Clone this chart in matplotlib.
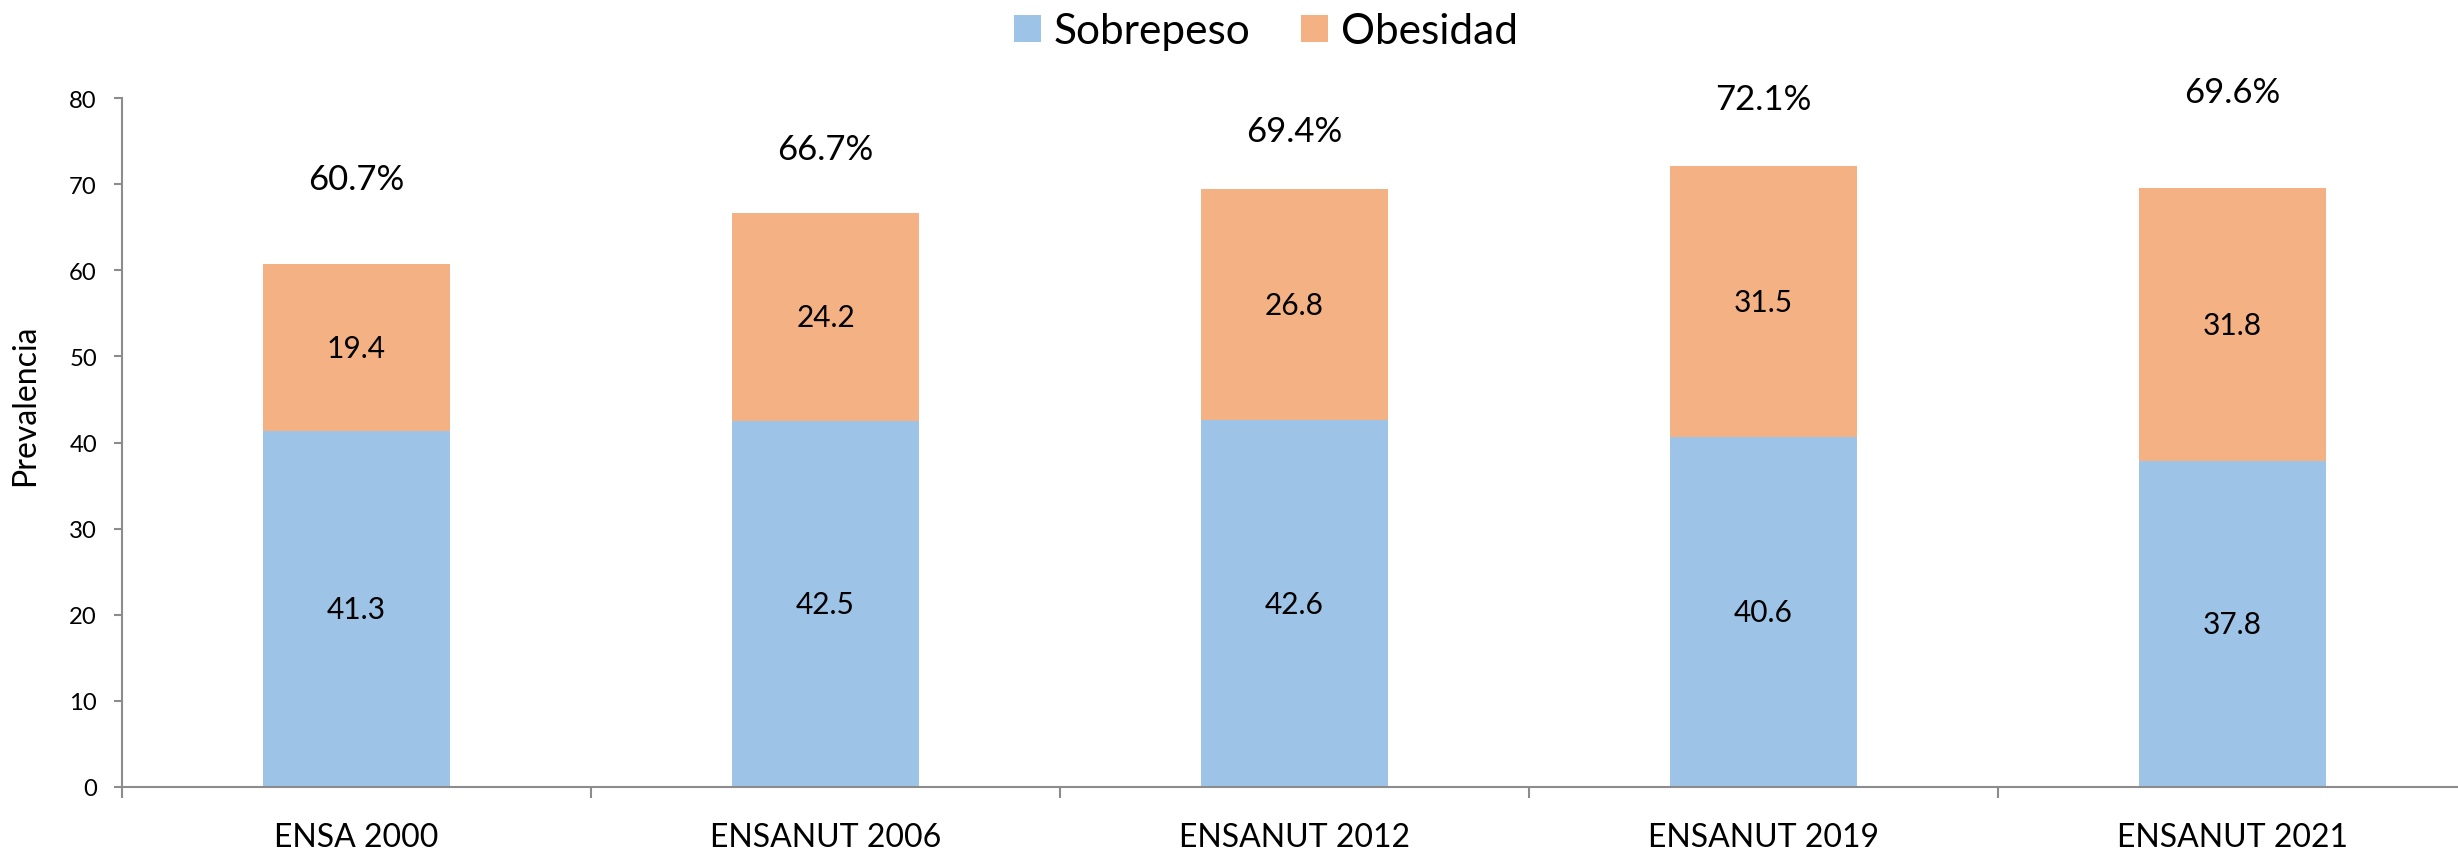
import matplotlib
matplotlib.use('Agg')
import matplotlib.pyplot as plt
import numpy as np

# Data
encuestas = ['ENSA 2000', 'ENSANUT 2006', 'ENSANUT 2012', 'ENSANUT 2019', 'ENSANUT 2021']
sobrepeso = [41.3, 42.5, 42.6, 40.6, 37.8]
obesidad = [19.4, 24.2, 26.8, 31.5, 31.8]
# how far above the bar top each total label sits (in data units)
label_gap = [9.9, 7.4, 6.8, 7.8, 11.1]

azul = '#9DC3E6'
naranja = '#F4B183'
gris = '#8C8C8C'

plt.rcParams['font.family'] = ['Lato', 'DejaVu Sans']

fig = plt.figure(figsize=(24.58, 8.53), dpi=100)
ax = fig.add_axes([122 / 2458, 1 - 788 / 853, (2467 - 122) / 2458, (788 - 99) / 853])

x = np.arange(len(encuestas))
b1 = ax.bar(x, sobrepeso, width=0.4, color=azul, label='Sobrepeso')
b2 = ax.bar(x, obesidad, width=0.4, bottom=sobrepeso, color=naranja, label='Obesidad')

# values inside the bars and totals above
for i in range(len(x)):
    ax.text(x[i], sobrepeso[i] / 2, f'{sobrepeso[i]:.1f}', ha='center', va='center', fontsize=21.5)
    ax.text(x[i], sobrepeso[i] + obesidad[i] / 2, f'{obesidad[i]:.1f}', ha='center', va='center', fontsize=21.5)
    total = sobrepeso[i] + obesidad[i]
    ax.text(x[i], total + label_gap[i], f'{total:.1f}%', ha='center', va='center', fontsize=25)

ax.set_xlim(-0.5, len(x) - 0.5)
ax.set_ylim(0, 80)
ax.set_yticks(range(0, 81, 10))

ax.set_xticks(x)
ax.set_xticklabels(encuestas, fontsize=23)
ax.set_xticks(np.arange(-0.5, len(x), 1), minor=True)
ax.tick_params(axis='x', which='major', length=0, pad=25)
ax.tick_params(axis='x', which='minor', length=8, width=1.5, color=gris, direction='out')
ax.tick_params(axis='y', labelsize=17.2, length=6, width=1.5, color=gris, pad=12)

for s in ['top', 'right']:
    ax.spines[s].set_visible(False)
for s in ['left', 'bottom']:
    ax.spines[s].set_color(gris)
    ax.spines[s].set_linewidth(1.5)

ax.set_ylabel('Prevalencia', fontsize=23)
ax.yaxis.set_label_coords(-0.035, 0.555)

fig.legend(handles=[b1, b2], loc='center', bbox_to_anchor=(0.515, 0.962), ncol=2,
           frameon=False, fontsize=30.5, handlelength=0.63, handleheight=0.63,
           handletextpad=0.3, columnspacing=1.2)

plt.savefig('out.png', dpi=100)
